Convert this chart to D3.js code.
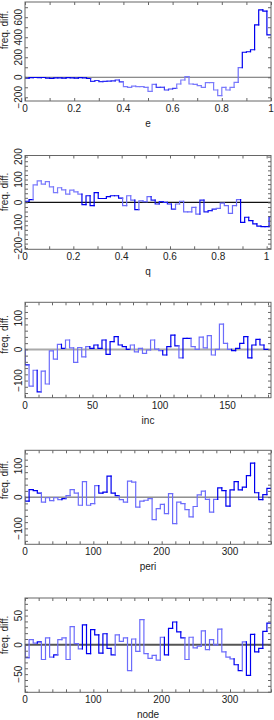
<!DOCTYPE html>
<html>
<head>
<meta charset="utf-8">
<script src="https://cdn.jsdelivr.net/npm/d3@7/dist/d3.min.js"></script>
<style>
body { margin: 0; background: #fff; }
svg { display: block; }
text { font-family: "Liberation Sans", Arial, sans-serif; font-size: 10px; fill: #222; }
</style>
</head>
<body>
<div class="graph"></div>
<script>
// frequency differences per bin (60 bins per panel, q has one extra clipped bin)
var eDiff = [-8, -3, -2, -3, -2, -8, -10, -5, -6, -8, -4, -6, -8, -3, -5, -12,
    -40, -32, -43, -40, -38, -35, -27, -45, -93, -100, -88, -93,
    -93, -100, -140, -70, -100, -100, -127, -117, -110, -67, -27, 7,
    -67, -70, -83, -100, -53, -53, -127, -183, -100, -127, -100, -50,
    97, 250, 255, 275, 523, 673, 660, 423];
var qDiff = [5, 12, 77, 94, 80, 91, 68, 43, 64, 55, 36, 54, 46, 36, -10, 29, -14, 43, 17, 17,
    25, 29, 29, 19, -14, 29, 10, -32, 7, 3, 25, 10, -7, 3, 0, -7, -29, -7, 5, -41,
    -41, -22, -51, 10, -41, -36, -29, -26, -3, -14, -48, -14, 12, -87, -65, -80, -94, -104, -106, -106,
    -62];
var incDiff = [-50, -118, -67, -136, -70, -111, -5, -31, 16, 3, 30, 5, -42, 6, -24, 9, 3, 14, 3, 30,
    -16, 25, 41, 14, 9, 0, 14, -8, 3, -13, -2, 30, 1, -4, -18, 9, 46, 11, -27, 35,
    35, 9, 0, 39, 5, 44, -18, 0, 81, 19, 0, -4, 3, 19, 41, -27, 14, 32, 14, 0];
var periDiff = [-13, 24, 21, 13, -16, -2, -11, -2, -8, -5, 5, 24, 13, -26, 50, -26, -21, 37, 13, 16,
    67, 13, 5, -8, -16, 51, 48, -32, -13, -10, -5, -72, -37, -23, -53, 11, -85, -16, -21, -40,
    -63, -30, 7, 19, -7, -48, -7, 30, 21, -29, 23, 50, 23, 32, 69, 109, 14, -8, 8, 28];
var nodeDiff = [-22, 9, 3, 5, -25, 12, -21, -17, 9, 12, -25, 31, 2, -7, 34, -15, 26, 17, -14, 19,
    -6, -17, 17, 6, 12, -44, 10, -11, 43, -15, -23, -18, -26, 13, -17, 28, 39, 22, 12, -25,
    13, -5, -2, 24, -8, 9, 0, 27, -12, -21, -24, -34, -44, 5, -52, 18, -12, -6, 23, 37];

// line shade per bin (0 = pale blue, 1 = full blue)
var eShade = [1, 1, 1, 1, 1, 1, 1, 1, 1, 1, 1, 1, 1, 1, 1, 1,
    0.7, 0.7, 0.7, 0.7, 0.7, 0.7, 0.7, 0.7, 0.2, 0.2, 0.2, 0.2, 0.2, 0.2, 0.2, 0.2,
    0.6, 0.6, 0.6, 0.6, 0.6, 0.2, 0.2, 0.2, 0.2, 0.2, 0.2, 0.2, 0.2, 0.2, 0.2, 0.2, 0.2, 0.2, 0.2, 0.2,
    0.3, 1, 1, 1, 1, 1, 1, 1];
var qShade = [1, 1, 0.2, 0.2, 0.2, 0.2, 0.2, 0.2, 0.2, 0.2, 0.2, 0.2, 0.2, 0.2,
    1, 1, 1, 1, 1, 1, 1, 1, 1, 1, 0.3, 0.3, 0.3, 1, 0.3, 0.3, 0.3,
    0.8, 0.8, 0.8, 0.8, 0.8, 0.8, 0.3, 0.3, 0.3, 0.3, 0.3, 0.3, 0.8, 0.8, 0.8, 0.8,
    0.3, 0.3, 0.3, 0.3, 0.3, 0.3, 1, 1, 1, 1, 1, 1, 1, 1];
var incShade = [1, 0.3, 0.3, 1, 0.3, 0.3, 0.3, 0.3, 0.3, 1, 0.3, 0.3, 0.3, 0.3, 0.3, 0.3, 1, 1, 1, 1,
    1, 1, 1, 1, 1, 1, 0.3, 0.3, 0.3, 0.3, 0.3, 0.3, 0.3, 0.3, 1, 1, 1, 1, 0.3, 1,
    1, 0.3, 0.3, 0.3, 0.3, 0.3, 0.3, 0.3, 0.3, 0.3, 0.3, 1, 1, 1, 1, 1, 1, 1, 1, 1];
var periShade = [1, 1, 1, 1, 0.3, 0.3, 0.3, 0.3, 0.3, 1, 0.3, 0.3, 0.3, 0.3, 0.3, 0.3, 0.3, 0.3, 1, 1,
    1, 1, 1, 0.3, 0.3, 0.3, 0.3, 0.3, 0.3, 0.3, 0.3, 0.3, 0.3, 0.3, 0.3, 0.3, 0.3, 0.3, 0.3, 0.3,
    0.3, 0.3, 0.3, 0.3, 0.3, 0.3, 0.3, 1, 1, 1, 1, 1, 1, 1, 1, 1, 1, 1, 1, 1];
var nodeShade = [1, 0.3, 0.3, 1, 0.3, 0.3, 0.3, 1, 0.3, 0.3, 0.3, 0.3, 0.3, 0.3, 1, 1, 1, 1, 1, 1,
    1, 1, 0.3, 0.3, 0.3, 0.3, 0.3, 0.3, 0.3, 0.3, 0.3, 0.3, 0.3, 0.3, 1, 1, 1, 1, 1, 0.3,
    0.3, 0.3, 0.3, 0.3, 0.3, 0.3, 0.3, 0.3, 0.3, 0.3, 0.3, 1, 1, 0.3, 1, 1, 1, 1, 1, 1];

// tick values
var fracTicks = [0, 0.2, 0.4, 0.6, 0.8, 1];
var angleTicks = [0, 100, 200, 300];
var incTicks = [0, 50, 100, 150];
var eYTicks = [-200, 0, 200, 400, 600];
var qYTicks = [-200, -100, 0, 100, 200];
var hundredTicks = [-100, 0, 100];
var fiftyTicks = [-50, 0, 50];

var W = 274, H = 720, left = 25, right = 271;

var panels = [
    {name: "e", diff: eDiff, shade: eShade, binW: 1 / 60, x: [0, 1], y: [-237, 752],
     xTicks: fracTicks, xMinor: 0.1, yTicks: eYTicks, yMinor: 100,
     top: 2, bottom: 101, titleY: 30, zero: ["#6a6a6a", 1]},
    {name: "q", diff: qDiff, shade: qShade, binW: 1.01 / 60, x: [0, 1.018], y: [-205, 205],
     xTicks: fracTicks, xMinor: 0.1, yTicks: qYTicks, yMinor: 20,
     top: 155.5, bottom: 249.3, titleY: 192, zero: ["#111", 1.2]},
    {name: "inc", diff: incDiff, shade: incShade, binW: 3, x: [0, 182.2], y: [-155, 151],
     xTicks: incTicks, xMinor: 10, yTicks: hundredTicks, yMinor: 20,
     top: 302.3, bottom: 397.7, titleY: 334.5, zero: ["#aaa", 2]},
    {name: "peri", diff: periDiff, shade: periShade, binW: 6, x: [0, 360], y: [-151, 150],
     xTicks: angleTicks, xMinor: 20, yTicks: hundredTicks, yMinor: 20,
     top: 450.3, bottom: 544.3, titleY: 480, zero: ["#555", 1]},
    {name: "node", diff: nodeDiff, shade: nodeShade, binW: 6, x: [0, 360], y: [-81, 80],
     xTicks: angleTicks, xMinor: 20, yTicks: fiftyTicks, yMinor: 10,
     top: 598, bottom: 692.3, titleY: 635, zero: ["#555", 2]}
];

var svg = d3.select(".graph").append("svg")
    .attr("width", W)
    .attr("height", H);

var shadeColor = d3.interpolateRgb("#9a9aff", "#0000f0");
var fmt = d3.format("~g");

panels.forEach(function(p, pi) {
    var xScale = d3.scaleLinear().domain(p.x).range([left, right]);
    var yScale = d3.scaleLinear().domain(p.y).range([p.bottom, p.top]);
    var g = svg.append("g").attr("class", "panel");

    var clipId = "clip" + pi;
    g.append("clipPath").attr("id", clipId)
        .append("rect")
        .attr("x", left).attr("y", p.top)
        .attr("width", right - left).attr("height", p.bottom - p.top);

    // zero line
    g.append("line")
        .attr("x1", left).attr("x2", right)
        .attr("y1", yScale(0)).attr("y2", yScale(0))
        .attr("stroke", p.zero[0])
        .attr("stroke-width", p.zero[1]);

    // step histogram, one piece per bin so each can carry its own shade
    var bins = p.diff.map(function(v, i) {
        return {x0: i * p.binW, x1: (i + 1) * p.binW, prev: i > 0 ? p.diff[i - 1] : 0, v: v, s: p.shade[i]};
    });
    g.append("g")
        .attr("clip-path", "url(#" + clipId + ")")
        .selectAll("path")
        .data(bins)
        .enter()
        .append("path")
        .attr("d", function(d) {
            return "M" + xScale(d.x0) + "," + yScale(d.prev) +
                "V" + yScale(d.v) + "H" + xScale(d.x1);
        })
        .attr("fill", "none")
        .attr("stroke", function(d) { return shadeColor(d.s); })
        .attr("stroke-width", 1.2)
        .attr("stroke-linecap", "square");

    // frame with inward ticks on every side
    var xMinorTicks = d3.range(p.x[0], p.x[1] + 1e-9, p.xMinor);
    var yMinorTicks = d3.range(Math.ceil(p.y[0] / p.yMinor) * p.yMinor, p.y[1] + 1e-9, p.yMinor);
    var tickCol = "#666";

    g.append("g").attr("transform", "translate(0," + p.bottom + ")")
        .call(d3.axisBottom(xScale).tickValues(xMinorTicks).tickSize(-3).tickFormat(""));
    g.append("g").attr("transform", "translate(0," + p.top + ")")
        .call(d3.axisTop(xScale).tickValues(xMinorTicks).tickSize(-3).tickFormat(""));
    g.append("g").attr("transform", "translate(" + left + ",0)")
        .call(d3.axisLeft(yScale).tickValues(yMinorTicks).tickSize(-3).tickFormat(""));
    g.append("g").attr("transform", "translate(" + right + ",0)")
        .call(d3.axisRight(yScale).tickValues(yMinorTicks).tickSize(-3).tickFormat(""));
    g.selectAll(".domain").remove();
    g.selectAll(".tick line").attr("stroke", tickCol);

    g.append("rect")
        .attr("x", left).attr("y", p.top)
        .attr("width", right - left).attr("height", p.bottom - p.top)
        .attr("fill", "none")
        .attr("stroke", tickCol)
        .attr("stroke-width", 1);

    // tick labels
    g.selectAll(".xlab")
        .data(p.xTicks)
        .enter()
        .append("text")
        .attr("class", "xlab")
        .attr("x", function(d) { return xScale(d); })
        .attr("y", p.bottom + 11)
        .attr("text-anchor", "middle")
        .text(fmt);

    g.selectAll(".ylab")
        .data(p.yTicks)
        .enter()
        .append("text")
        .attr("class", "ylab")
        .attr("transform", function(d) { return "translate(22," + yScale(d) + ")rotate(-90)"; })
        .attr("text-anchor", "middle")
        .text(fmt);

    // axis titles
    g.append("text")
        .attr("transform", "translate(8," + p.titleY + ")rotate(-90)")
        .attr("text-anchor", "middle")
        .text("freq. diff.");

    g.append("text")
        .attr("x", (left + right) / 2)
        .attr("y", p.bottom + 26)
        .attr("text-anchor", "middle")
        .text(p.name);
});
</script>
</body>
</html>
